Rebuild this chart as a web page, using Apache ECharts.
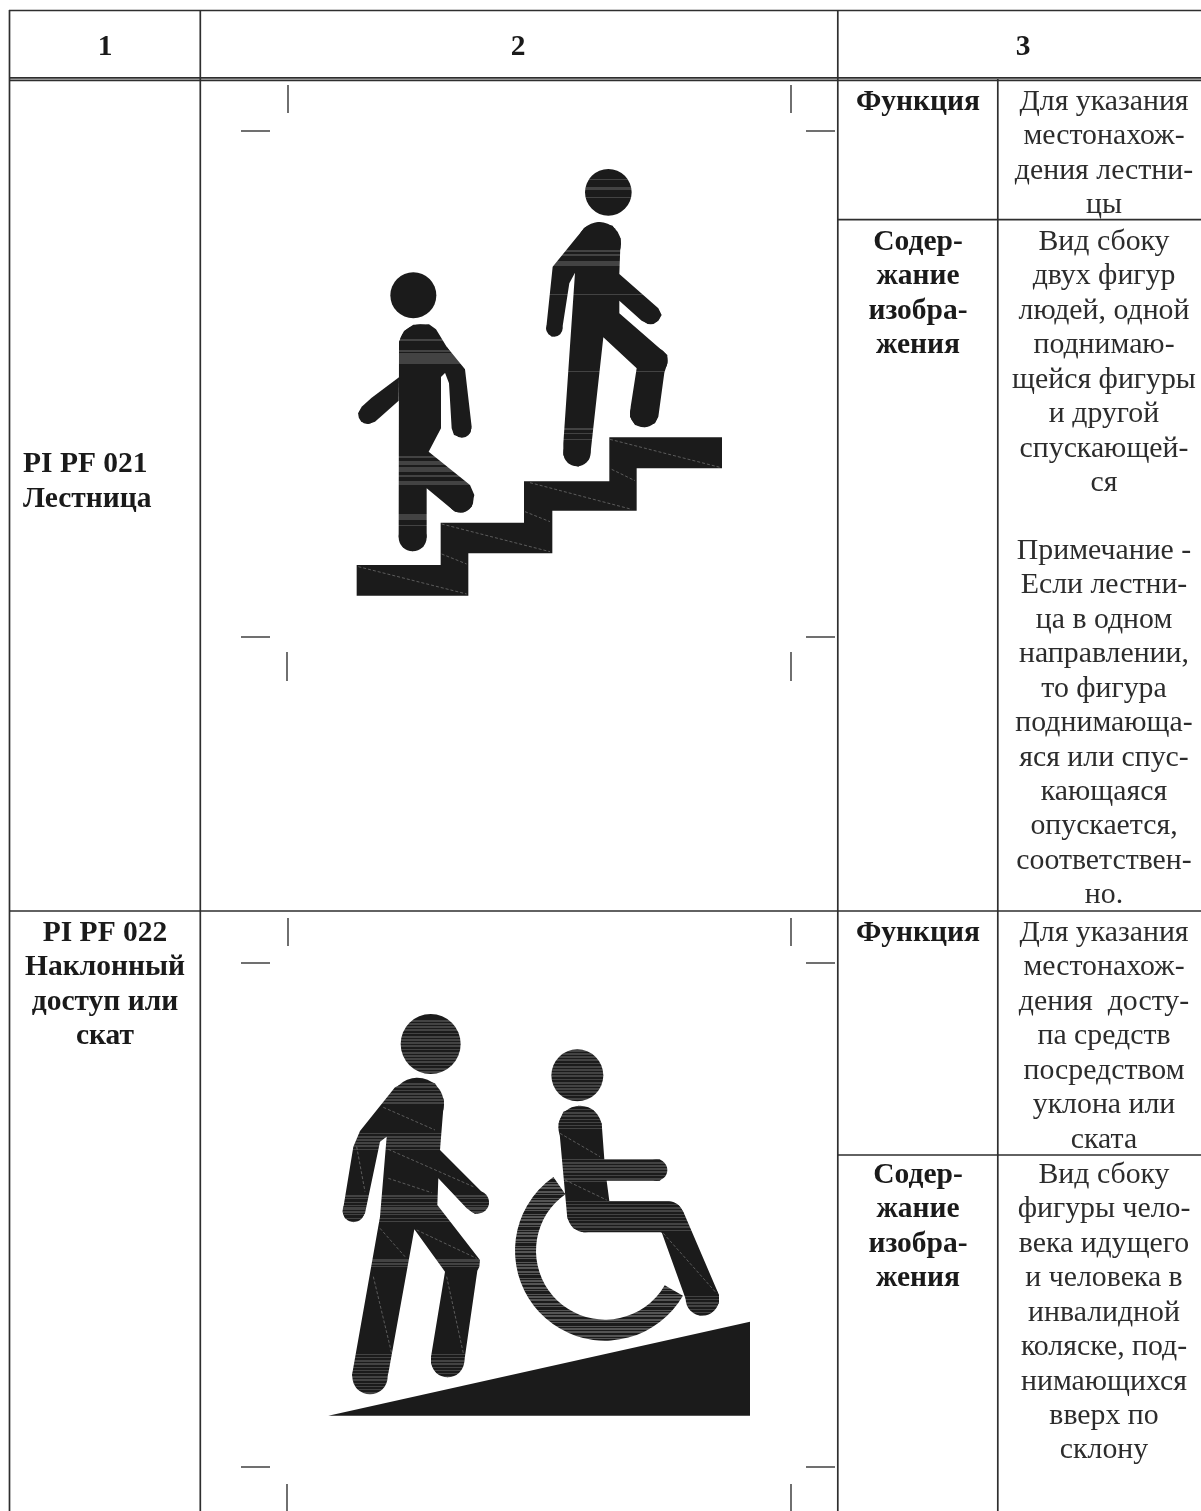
<!DOCTYPE html>
<html><head><meta charset="utf-8">
<style>html,body{margin:0;padding:0;background:#fff}#c{width:1201px;height:1511px}</style>
<script src="https://cdn.jsdelivr.net/npm/echarts@6/dist/echarts.min.js"></script>
</head><body><div id="c"></div>
<script>
/* ---------- text content ---------- */
const headerLabels = ['1','2','3'];
const row1Name = ['PI PF 021','Лестница'];
const row2Name = ['PI PF 022','Наклонный','доступ или','скат'];
const funcLabel = ['Функция'];
const contentLabel = ['Содер-','жание','изобра-','жения'];
const row1Func = ['Для указания','местонахож-','дения лестни-','цы'];
const row1Content = ['Вид сбоку','двух фигур','людей, одной','поднимаю-','щейся фигуры','и другой','спускающей-','ся'];
const row1Note = ['Примечание -','Если лестни-','ца в одном','направлении,','то фигура','поднимающа-','яся или спус-','кающаяся','опускается,','соответствен-','но.'];
const row2Func = ['Для указания','местонахож-','дения  досту-','па средств','посредством','уклона или','ската'];
const row2Content = ['Вид сбоку','фигуры чело-','века идущего','и человека в','инвалидной','коляске, под-','нимающихся','вверх по','склону'];

/* ---------- table rules, in axis units: [x1,y1,x2,y2] ---------- */
const tableRules = [
 [9,10.5,1201,10.5],[9,77.8,1201,77.8],[9,80.3,1201,80.3],[9,911,1201,911],
 [838,219.7,1201,219.7],[838,1155,1201,1155],
 [9.5,10,9.5,1511],[200.3,10,200.3,1511],[837.8,10,837.8,1511],[997.8,79,997.8,1511]
];
const cropMarks = [
 [288,85,288,113],[791,85,791,113],[241,131,270,131],[806,131,835,131],
 [241,637,270,637],[806,637,835,637],[287,652,287,681],[791,652,791,681],
 [288,918,288,946],[791,918,791,946],[241,963,270,963],[806,963,835,963],
 [241,1467,270,1467],[806,1467,835,1467],[287,1484,287,1511],[791,1484,791,1511]
];

/* ---------- pictogram 1 outlines (read from a 3x view) ---------- */
const stairs = [[80,1245],[332,1245],[332,1118],[582,1118],[582,994],[838,994],[838,862],[1176,862],[1176,955],[920,955],[920,1082],[667,1082],[667,1210],[415,1210],[415,1337],[80,1337]];
const stairSeams = [[840,868,1170,952],[600,998,905,1078],[335,1122,660,1205],[85,1250,410,1332],[845,958,915,992],[585,1085,660,1115],[335,1212,410,1242]];
const downBody = [[207,575],[222,543],[250,524],[297,523],[318,538],[350,590],[378,630],[345,668],[333,680],[333,835],[296,905],[395,985],[420,1005],[433,1035],[425,1070],[400,1087],[375,1085],[290,1015],[290,1160],[280,1190],[248,1204],[218,1190],[206,1160]];
const downArmFront = [[350,590],[405,658],[425,830],[420,850],[395,862],[372,855],[365,835],[357,700],[345,668],[333,680]];
const downArmBack = [[207,682],[125,743],[95,770],[85,790],[92,810],[115,822],[135,815],[206,752]];
const upBody = [[740,262],[765,232],[805,216],[848,227],[872,265],[868,372],[985,475],[995,495],[985,512],[955,522],[935,512],[868,452],[868,490],[1012,615],[1012,640],[1003,668],[985,800],[975,820],[945,832],[915,825],[900,800],[902,770],[920,655],[820,562],[782,905],[775,930],[745,950],[715,940],[700,915],[700,880],[735,368],[718,400],[697,535],[685,555],[665,560],[650,540],[650,522],[668,350]];
const downHead = [250,436,69];
const upHead = [835,127,70];
const downJoints = [[271,587,64],[396,835,28],[112,795,27],[248,1162,42],[392,1050,38]];
const upJoints = [[808,281,65],[673,535,25],[962,495,28],[741,908,41],[942,790,42],[975,632,38]];
const upBands = [[88,91],[112,121],[140,145],[300,306],[312,318],[332,348],[431,434],[663,667],[835,840],[848,852],[866,870]];
const downBands = [[568,572],[600,606],[610,642],[918,924],[932,944],[950,965],[975,982],[994,1006],[1092,1110],[1124,1128]];

/* ---------- pictogram 2 outlines (read from a 3x view) ---------- */
const ramp = [[25,1247],[1290,965],[1290,1247]];
const walker = [[120,393],[225,262],[288,233],[345,250],[372,300],[360,450],[500,590],[507,610],[495,632],[465,642],[440,625],[355,535],[352,615],[480,780],[478,800],[472,812],[432,1090],[415,1120],[383,1132],[350,1120],[333,1090],[333,1070],[375,815],[283,688],[205,1120],[195,1150],[150,1182],[110,1165],[96,1125],[180,650],[200,410],[180,425],[135,640],[125,655],[100,667],[75,655],[68,635],[100,440]];
const rider = [[716,370],[730,335],[775,317],[820,330],[845,370],[853,478],[1020,478],[1040,510],[1020,542],[860,542],[868,603],[1045,603],[1075,615],[1090,635],[1197,885],[1197,910],[1175,938],[1140,947],[1110,930],[1100,905],[1025,697],[790,697],[760,685],[742,655]];
const walkerHead = [332,132,90];
const riderHead = [772,226,78];
const walkerJoints = [[292,313,80],[101,633,33],[473,607,34],[150,1130,53],[383,1082,50]];
const riderJoints = [[780,382,65],[1010,510,32],[1147,897,50],[795,645,52],[1043,652,49]];
const wheel = [855,752,270,207];
const figureSeams = [[190,322,345,390],[205,448,460,560],[205,535,335,578],[110,440,135,575],[180,685,255,770],[290,690,470,775],[160,830,215,1060],[380,830,430,1060],[720,400,840,470],[735,540,860,600],[1030,700,1190,880]];
const walkerTexture = [[60,220],[250,312],[400,450],[585,668],[778,808],[1062,1185]];
const riderTexture = [[150,305],[318,388],[478,545],[603,698],[888,948]];
const wheelTexture = [[505,1025]];
const stripeWidths = [5,3,7,4,6,3,4,8,3,5];

/* ---------- layout ---------- */
const STEP = 34.45;
const textBlocks = [
 {t:headerLabels.slice(0,1),x:105,y:47,bold:true},
 {t:headerLabels.slice(1,2),x:518,y:47,bold:true},
 {t:headerLabels.slice(2,3),x:1023,y:47,bold:true},
 {t:row1Name,x:23,y:464.5,bold:true,left:true},
 {t:row2Name,x:105,y:933,bold:true},
 {t:funcLabel,x:918,y:102,bold:true},
 {t:contentLabel,x:918,y:242,bold:true},
 {t:funcLabel,x:918,y:933,bold:true},
 {t:contentLabel,x:918,y:1175,bold:true},
 {t:row1Func,x:1104,y:102},
 {t:row1Content,x:1104,y:242},
 {t:row1Note,x:1104,y:551},
 {t:row2Func,x:1104,y:933},
 {t:row2Content,x:1104,y:1175}
];
const textItems = [];
textBlocks.forEach(b=>b.t.forEach((s,i)=>textItems.push({s,x:b.x,y:b.y+i*STEP,bold:b.bold,left:b.left})));

const INK='#1b1b1b', BAND='#434343';
const P1={ox:330,oy:150}, P2={ox:320,oy:1000};
const toAxis=(o,p)=>[o.ox+p[0]/3,o.oy+p[1]/3];

function texture(ranges){
  const out=[]; let k=0;
  ranges.forEach(r=>{ let y=r[0], on=true;
    while(y<r[1]){ const w=stripeWidths[k++%stripeWidths.length];
      if(on) out.push([y,Math.min(y+w,r[1])]); y+=w; on=!on; } });
  return out;
}
function stripeFill(api,o,bands,colour){
  const a=api.coord([0,o.oy]), b=api.coord([0,o.oy+1400/3]);
  const L=1400, stops=[]; let pos=0;
  const add=(p,c)=>stops.push({offset:Math.max(0,Math.min(1,p/L)),color:c});
  bands.forEach(r=>{ add(pos,INK); add(r[0],INK); add(r[0],colour); add(r[1],colour); pos=r[1]; });
  add(pos,INK); add(L,INK);
  return new echarts.graphic.LinearGradient(0,a[1],0,b[1],stops,true);
}

const walkerBands=texture(walkerTexture), riderBands=texture(riderTexture);
const shapes=[
 {o:P1,poly:stairs},{o:P1,poly:downBody,bands:downBands},{o:P1,poly:downArmFront,bands:downBands},{o:P1,poly:downArmBack},
 ...downJoints.map(circle=>({o:P1,circle,bands:downBands})),
 {o:P1,poly:upBody,bands:upBands},...upJoints.map(circle=>({o:P1,circle,bands:upBands})),
 {o:P1,circle:downHead},{o:P1,circle:upHead,bands:upBands},
 {o:P2,poly:ramp},{o:P2,poly:walker,bands:walkerBands},...walkerJoints.map(circle=>({o:P2,circle,bands:walkerBands})),
 {o:P2,circle:walkerHead,bands:walkerBands},
 {o:P2,poly:rider,bands:riderBands},...riderJoints.map(circle=>({o:P2,circle,bands:riderBands})),
 {o:P2,circle:riderHead,bands:riderBands},
 {o:P2,ring:wheel,bands:texture(wheelTexture),colour:'#555555'}
];
const seams=[...stairSeams.map(s=>({o:P1,s})),...figureSeams.map(s=>({o:P2,s}))];

function renderShape(params,api){
  const d=shapes[params.dataIndex], o=d.o;
  const fill=d.bands?stripeFill(api,o,d.bands,d.colour||BAND):INK;
  const scale=api.size([1,1])[0];
  if(d.poly) return {type:'polygon',shape:{points:d.poly.map(p=>api.coord(toAxis(o,p)))},style:{fill}};
  if(d.circle){const c=api.coord(toAxis(o,d.circle));
    return {type:'circle',shape:{cx:c[0],cy:c[1],r:d.circle[2]/3*scale},style:{fill}};}
  const c=api.coord(toAxis(o,d.ring));
  return {type:'sector',shape:{cx:c[0],cy:c[1],r:d.ring[2]/3*scale,r0:d.ring[3]/3*scale,startAngle:30*Math.PI/180,endAngle:235*Math.PI/180,clockwise:true},style:{fill}};
}
function renderRule(width,colour,list){
  return (params,api)=>{const r=list[params.dataIndex],a=api.coord([r[0],r[1]]),b=api.coord([r[2],r[3]]);
    return {type:'line',shape:{x1:a[0],y1:a[1],x2:b[0],y2:b[1]},style:{stroke:colour,lineWidth:width}};};
}
function renderSeam(params,api){
  const d=seams[params.dataIndex],a=api.coord(toAxis(d.o,[d.s[0],d.s[1]])),b=api.coord(toAxis(d.o,[d.s[2],d.s[3]]));
  return {type:'line',shape:{x1:a[0],y1:a[1],x2:b[0],y2:b[1]},style:{stroke:'#777777',lineWidth:0.7,lineDash:[3,2]}};
}
function renderText(params,api){
  const d=textItems[params.dataIndex],c=api.coord([d.x,d.y]);
  return {type:'text',x:c[0],y:c[1],style:{text:d.s,fill:d.bold?'#1a1a1a':'#2c2c2c',
    font:(d.bold?'bold 29.5px':'29.8px')+' "Liberation Serif"',align:d.left?'left':'center',verticalAlign:'middle'}};
}
const idx=a=>a.map((_,i)=>[i]);
const custom=(renderItem,list,z)=>({type:'custom',renderItem,data:idx(list),coordinateSystem:'cartesian2d',clip:false,silent:true,z,encode:{x:0,y:0}});

const chart=echarts.init(document.getElementById('c'),null,{renderer:'canvas',width:1201,height:1511});
chart.setOption({
  animation:false,backgroundColor:'#ffffff',
  grid:{left:0,right:0,top:0,bottom:0},
  xAxis:{type:'value',min:0,max:1201,show:false},
  yAxis:{type:'value',min:0,max:1511,inverse:true,show:false},
  tooltip:{show:false},
  series:[
    custom(renderRule(1.7,'#2e2e2e',tableRules),tableRules,1),
    custom(renderRule(1.3,'#222222',cropMarks),cropMarks,1),
    custom(renderShape,shapes,2),
    custom(renderSeam,seams,3),
    custom(renderText,textItems,4)
  ]
});
</script></body></html>
